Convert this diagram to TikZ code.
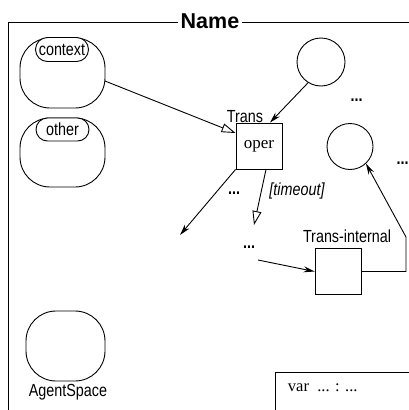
\documentclass[tikz,border=0pt]{standalone}
\usepackage{fontspec}
\newfontfamily\nar[FakeStretch=0.82]{Liberation Sans}
\newfontfamily\hel{Liberation Sans}
\newfontfamily\tim{Liberation Serif}
\usetikzlibrary{arrows.meta,shapes.misc,calc}
\begin{document}
\begin{tikzpicture}[x=1pt,y=-1pt, line width=0.9pt,
  lab/.style={font=\nar\fontsize{17.5}{20}\selectfont, inner sep=0pt},
  dots/.style={font=\nar\bfseries\fontsize{17.5}{20}\selectfont, inner sep=0pt, anchor=base},
  space/.style={draw, rounded corners=30pt, minimum width=85pt, minimum height=70pt, inner sep=0pt},
  tag/.style={draw, fill=white, rounded rectangle, minimum width=53pt, minimum height=24pt, inner sep=0pt, lab},
  place/.style={draw, circle, minimum size=48pt, inner sep=0pt},
  trbox/.style={draw, minimum size=46pt, inner sep=0pt},
  fillarrow/.style={-{Stealth[length=11pt,width=6pt]}},
  openarrow/.style={-{Triangle[open,length=14pt,width=9pt]}},
]
\useasboundingbox (0,0) rectangle (409,410);
% frame
\node[font=\hel\bfseries\fontsize{21.5}{24}\selectfont, inner sep=2pt, anchor=base] (name) at (210,28.5) {Name};
\coordinate (fl) at (8,22);
\coordinate (fb) at (8,410);
\coordinate (fr) at (409,22);
\draw (fb) -- (fl) -- (fl -| name.west);
\draw (name.east |- fl) -- (fr);
% agent spaces
\node[space] (ctx) at (62.5,73) {};
\node[tag] (ctxtag) at (62,49.5) {context};
\node[space, minimum height=69pt] (oth) at (62.5,152.5) {};
\node[tag, minimum height=23pt] (othtag) at (62.5,129.5) {other};
\node[space, minimum width=79pt] (ags) at (65.5,346) {};
\node[lab, anchor=base] (agslab) at (68,396) {AgentSpace};
% places
\node[place] (p1) at (321,62) {};
\node[place, minimum size=46pt] (p2) at (350,146.5) {};
% transitions
\node[trbox, font=\tim\fontsize{17}{20}\selectfont] (tr) at (259,146) {oper};
\node[lab, anchor=base] (trl) at (245,122.5) {Trans};
\node[trbox] (ti) at (338,271.5) {};
\node[lab, anchor=base] (til) at (347,242) {Trans-internal};
% dots
\node[dots] (d1) at (356.5,101.5) {...};
\node[dots] (d2) at (402.5,164) {...};
\node[dots] (d3) at (234,194) {...};
\node[dots] (d4) at (249,248) {...};
\node[lab, anchor=base, font=\nar\itshape\fontsize{17.5}{20}\selectfont] (to) at (297,195) {[timeout]};
% var box
\coordinate (vb) at (275,372);
\coordinate (vbb) at (275,410);
\coordinate (vbr) at (409,372);
\draw (vbb) -- (vb) -- (vbr);
\node[font=\tim\fontsize{16.5}{18}\selectfont, anchor=base west, inner sep=0pt] (var) at (287.5,391) {var\ \ ... : ...};
% connectors
\coordinate (ctxout) at (105,81);
\draw[openarrow] (ctxout) -- ($(tr.west)+(0,-13)$);
\draw[fillarrow] (p1.-122) -- ($(tr.north)+(11,0)$);
\coordinate (oute) at (180,235);
\draw[fillarrow] (tr.south west) -- (oute);
\coordinate (tout) at (254,225);
\draw[openarrow] ($(tr.south)+(7,0)$) -- (tout);
\coordinate (tin) at (258,260);
\draw[fillarrow] (tin) -- (ti.west);
\coordinate (bend) at (406,237);
\draw[fillarrow] (ti.east) -- (ti.east -| bend) -- (bend) -- (p2.-47);
\end{tikzpicture}
\end{document}
